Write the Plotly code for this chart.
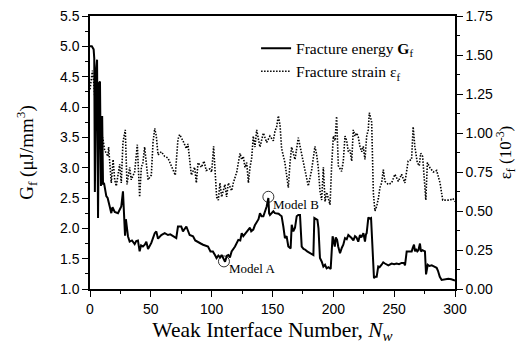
import plotly.graph_objects as go

# Fracture energy G_f vs weak interface number
nw_energy = [0, 1.5, 3, 3.5, 4, 5, 5.8, 6.6, 7.5, 8.2, 9, 10, 10.7, 11.5, 13.4, 14.5, 16.2, 17.5, 18.5,
             20.3, 23, 25.7, 27.1, 28, 28.8, 29.5, 30.3, 31.2, 32.6, 34.5, 36.7, 38, 39.4, 40.8, 42,
             43.5, 45, 46.3, 47.7, 50.4, 53.2, 54.5, 55.9, 58.6, 61.4, 64.1, 66, 68.2, 70.9, 72.3, 75,
             76.4, 79.2, 81.9, 84.7, 86.5, 88.8, 91, 92.9, 95, 97, 99, 101, 102.7, 104, 105.5, 107,
             108.2, 110, 111, 112.5, 113.7, 115, 116.4, 119.2, 120.5, 121.9, 123.5, 124.7, 126, 128.8,
             131.5, 132.5, 134.2, 135.5, 137, 138.5, 139.7, 141, 142.5, 144, 145.2, 146.6, 147.2, 147.9,
             149.3, 150.7, 152, 153.4, 155, 156.2, 157.5, 158.9, 160.2, 161.6, 163, 164.9, 165.8, 167.1,
             168.5, 169.9, 171.2, 172.6, 173.3, 174, 175.5, 176.7, 178.5, 180.8, 182, 183.6, 184.4,
             185.5, 186.9, 187.8, 189, 190.5, 191.8, 193.2, 194.5, 196, 197.8, 199.4, 200.3, 201.2,
             202, 203.1, 204, 205.5, 207, 208.2, 209.6, 211, 212.3, 213.5, 215, 216.5, 217.8, 219,
             220.5, 221.9, 223, 224.7, 225.5, 226, 226.8, 227.4, 228.8, 230, 231, 232.1, 233.4, 234.5,
             235.6, 236.9, 238, 239.7, 241, 242.4, 244, 245.2, 247.9, 250, 252, 254, 256.1, 258, 258.9,
             260.3, 262, 264.4, 265.3, 266.3, 267.1, 267.9, 269, 269.9, 271.2, 272, 273.2, 275.3, 276.2,
             277.6, 279, 280.9, 283, 284.9, 286, 287.5, 289, 291, 294.5, 297, 298.6, 300]
gf_energy = [5.00, 5.00, 4.95, 4.80, 2.60, 4.60, 4.78, 2.17, 4.40, 4.42, 2.70, 3.85, 2.72, 2.75, 2.53, 2.50,
             2.36, 2.25, 2.35, 2.27, 2.25, 2.36, 2.61, 2.30, 1.88, 2.15, 2.00, 1.87, 1.78, 1.80, 1.74, 1.79,
             1.80, 1.62, 1.72, 1.70, 1.73, 1.78, 1.66, 1.76, 1.92, 1.95, 1.83, 1.89, 1.92, 1.89, 1.90, 1.87,
             1.84, 2.03, 2.03, 1.95, 2.03, 1.89, 1.87, 1.80, 1.78, 1.75, 1.73, 1.72, 1.70, 1.62, 1.62, 1.56,
             1.51, 1.55, 1.52, 1.56, 1.47, 1.45, 1.55, 1.56, 1.52, 1.62, 1.70, 1.76, 1.81, 1.80, 1.92, 1.87,
             1.95, 2.01, 1.95, 1.98, 2.05, 2.09, 2.15, 2.25, 2.20, 2.20, 2.30, 2.36, 2.50, 2.25, 2.22, 2.25,
             2.28, 2.25, 2.25, 2.24, 2.22, 2.20, 2.03, 1.84, 1.87, 1.70, 1.67, 2.06, 1.95, 2.01, 2.20, 2.22,
             2.22, 2.00, 1.70, 1.66, 1.65, 1.62, 1.59, 1.57, 1.56, 2.17, 2.15, 2.14, 2.00, 1.51, 1.45, 1.37,
             1.40, 1.34, 1.36, 1.33, 1.87, 1.75, 1.70, 1.85, 1.81, 1.70, 1.59, 1.68, 1.73, 1.84, 1.82, 1.89,
             1.87, 1.84, 1.80, 1.87, 1.85, 1.78, 1.89, 1.85, 1.92, 1.85, 1.78, 1.90, 1.92, 2.18, 2.16, 2.17,
             1.80, 1.18, 1.20, 1.20, 1.37, 1.36, 1.40, 1.44, 1.42, 1.40, 1.39, 1.42, 1.41, 1.42, 1.41, 1.43,
             1.43, 1.39, 1.62, 1.62, 1.62, 1.68, 1.73, 1.62, 1.66, 1.62, 1.64, 1.75, 1.62, 1.64, 1.62, 1.24,
             1.40, 1.38, 1.39, 1.37, 1.35, 1.30, 1.20, 1.15, 1.16, 1.17, 1.16, 1.15, 1.14]

# Fracture strain eps_f (10^-3) vs weak interface number
nw_strain = [0, 1, 2, 3, 4, 5, 6, 7, 8, 9, 9.3, 10.5, 12, 14.8, 15.3, 17.5, 19, 20.3, 21.6, 24.4, 25.7,
             27.1, 29, 30.4, 32.6, 33.9, 36.7, 38.9, 40.8, 42.2, 43.5, 44.9, 46.3, 47.7, 50.4, 51.8, 53.2,
             54.5, 55.9, 58.6, 61.4, 64.1, 68.2, 70.1, 72.3, 73.7, 76.4, 79.2, 80.5, 83.3, 86, 87.4, 88.8,
             91.6, 93.7, 95.5, 98.6, 100, 101.6, 102.9, 104.1, 105.5, 106.8, 108.2, 110.9, 112.3, 113.7,
             116.4, 117.8, 120.6, 123.3, 124.7, 126, 127.4, 128.8, 130.2, 131.5, 132.9, 134.2, 135.6, 137,
             139.7, 142.5, 145.2, 147.9, 150.7, 152, 153.4, 154.8, 156.2, 157.5, 160.2, 163, 164.4, 165.7,
             167.1, 168.5, 171.2, 174, 176.7, 179.4, 182.2, 184.9, 186.3, 187.6, 189, 190.4, 191.8, 193.2,
             194.5, 195.9, 197.3, 198.6, 200, 201.4, 202.7, 204.1, 206.8, 208.2, 209.6, 211, 212.3, 213.7,
             215.1, 216.4, 217.8, 219.2, 220.5, 221.9, 223.3, 224.6, 226, 227.4, 228.7, 229.6, 230.6,
             231.5, 232.9, 234.2, 235.6, 237, 238.3, 239.7, 241.1, 242.4, 245.2, 247.9, 250.6, 253.4,
             256.1, 258.8, 261.5, 264.3, 265.6, 267, 269, 270.6, 271.8, 273.4, 274.8, 276, 277.3, 279.5,
             282.2, 284.9, 287.7, 289.9, 293.2, 296, 298.2, 300]
eps_strain = [1.28, 1.36, 1.40, 1.33, 1.22, 1.25, 1.12, 1.15, 1.08, 1.02, 0.96, 0.97, 0.89, 0.85, 0.91,
              0.68, 0.83, 0.70, 0.66, 0.80, 0.68, 0.94, 1.02, 0.67, 0.78, 0.70, 0.75, 0.925, 0.59, 0.78,
              0.81, 0.91, 0.81, 0.70, 0.73, 0.94, 1.03, 0.98, 0.86, 0.88, 0.85, 0.84, 0.765, 0.73, 0.96,
              0.99, 0.95, 0.90, 0.93, 0.73, 0.78, 0.68, 0.81, 0.78, 0.82, 0.76, 0.77, 0.75, 0.914, 0.72,
              0.59, 0.57, 0.68, 0.59, 0.67, 0.59, 0.68, 0.63, 0.68, 0.75, 0.87, 0.83, 0.85, 0.78, 0.81,
              0.68, 0.78, 0.84, 0.98, 0.91, 1.02, 0.91, 1.00, 0.94, 0.98, 0.95, 1.01, 1.04, 1.11, 1.05,
              0.90, 0.81, 0.65, 0.81, 0.91, 0.87, 0.83, 0.97, 0.87, 0.765, 0.66, 0.765, 0.914, 0.86, 0.78,
              0.63, 0.57, 0.78, 0.56, 0.62, 0.57, 0.54, 0.79, 0.98, 0.95, 1.106, 0.79, 0.754, 0.82, 0.98,
              0.95, 0.88, 0.89, 0.82, 1.02, 0.98, 1.00, 0.975, 0.914, 0.88, 0.914, 0.83, 0.98, 1.02, 1.13,
              1.10, 1.07, 0.615, 0.50, 0.53, 0.58, 0.65, 0.68, 0.765, 0.69, 0.67, 0.68, 0.735, 0.69, 0.735,
              0.68, 0.82, 0.83, 1.04, 0.914, 0.81, 0.79, 0.87, 0.85, 0.70, 0.57, 0.81, 0.776, 0.75, 0.76,
              0.68, 0.57, 0.57, 0.57, 0.58, 0.56]

# Marked models
model_names = ["Model A", "Model B"]
model_nw = [110.1, 146.6]
model_gf = [1.455, 2.52]

serif = "Liberation Serif"
sans = "Liberation Sans"

fig = go.Figure()
fig.add_trace(go.Scatter(x=nw_energy, y=gf_energy, mode="lines",
                         line=dict(color="black", width=2),
                         name="Fracture energy <b>G</b><sub>f</sub>"))
fig.add_trace(go.Scatter(x=nw_strain, y=eps_strain, mode="lines", yaxis="y2",
                         line=dict(color="black", width=1.6, dash="1.5px,1.5px"),
                         name="Fracture strain ε<sub>f</sub>"))
fig.add_trace(go.Scatter(x=model_nw, y=model_gf, mode="markers", showlegend=False,
                         marker=dict(symbol="circle-open", size=11, color="black",
                                     line=dict(width=0.8, color="black"))))
for nm, xv, yv in zip(model_names, model_nw, model_gf):
    fig.add_annotation(x=xv, y=yv, text=nm, showarrow=False, xanchor="left", yanchor="top",
                       xshift=3, yshift=2, font=dict(family=serif, size=13, color="black"))

fig.update_layout(
    width=520, height=349,
    margin=dict(l=90, r=65, t=16, b=60),
    paper_bgcolor="white", plot_bgcolor="white",
    showlegend=True,
    legend=dict(x=0.455, y=0.943, xanchor="left", yanchor="top", bgcolor="rgba(0,0,0,0)",
                font=dict(family=serif, size=15.5, color="black"), tracegroupgap=0,
                itemwidth=30),
    xaxis=dict(range=[0, 300], tickvals=[0, 50, 100, 150, 200, 250, 300], automargin=False,
               ticks="outside", ticklen=6, tickwidth=1.2, tickcolor="black",
               minor=dict(ticks="outside", ticklen=3, dtick=25, tickcolor="black"),
               showline=True, linecolor="black", linewidth=1.5, mirror=True, showgrid=False,
               zeroline=False,
               tickfont=dict(family=sans, size=14, color="black"),
               title=dict(text="Weak Interface Number, <i>N<sub>w</sub></i>",
                          font=dict(family=serif, size=21.5, color="black"), standoff=6)),
    yaxis=dict(range=[1.0, 5.5], tickvals=[1.0, 1.5, 2.0, 2.5, 3.0, 3.5, 4.0, 4.5, 5.0, 5.5],
               ticktext=["1.0", "1.5", "2.0", "2.5", "3.0", "3.5", "4.0", "4.5", "5.0", "5.5"],
               automargin=False,
               ticks="outside", ticklen=6, tickwidth=1.2, tickcolor="black",
               minor=dict(ticks="outside", ticklen=3, dtick=0.25, tickcolor="black"),
               showline=True, linecolor="black", linewidth=1.5, showgrid=False, zeroline=False,
               tickfont=dict(family=sans, size=14, color="black"),
               title=dict(text="G<sub>f</sub> (μJ/mm<sup>3</sup>)",
                          font=dict(family=serif, size=19, color="black"), standoff=21)),
    yaxis2=dict(range=[0, 1.75], overlaying="y", side="right", automargin=False,
                tickvals=[0, 0.25, 0.5, 0.75, 1.0, 1.25, 1.5, 1.75],
                ticktext=["0.00", "0.25", "0.50", "0.75", "1.00", "1.25", "1.50", "1.75"],
                ticks="outside", ticklen=6, tickwidth=1.2, tickcolor="black",
                minor=dict(ticks="outside", ticklen=3, dtick=0.125, tickcolor="black"),
                showline=True, linecolor="black", linewidth=1.5, showgrid=False, zeroline=False,
                tickfont=dict(family=sans, size=14, color="black"),
                title=dict(text="ε<sub>f</sub> (10<sup>-3</sup>)",
                           font=dict(family=serif, size=17, color="black"), standoff=7)),
)

fig.write_html("out.html")
